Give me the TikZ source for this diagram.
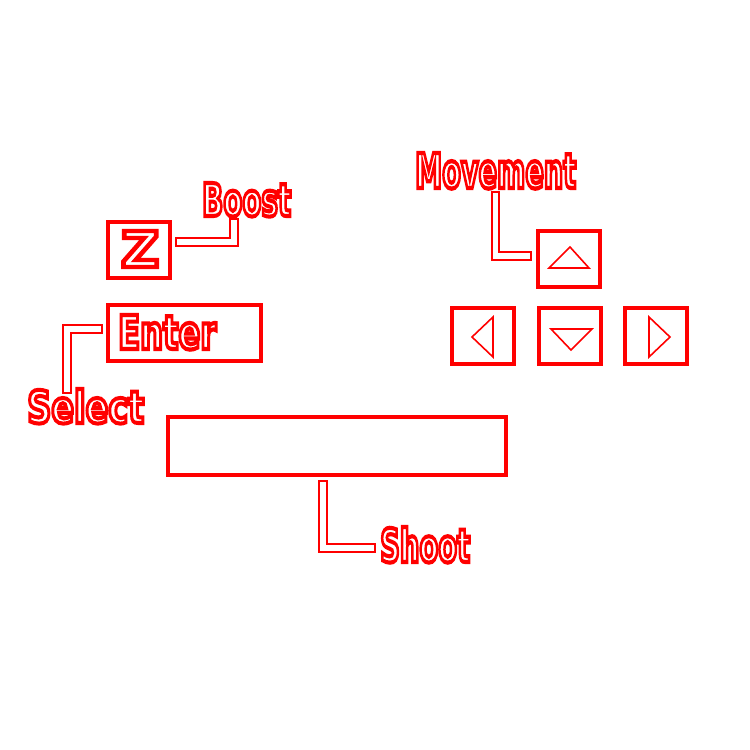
\documentclass[tikz,border=0pt]{standalone}
\usepackage{fontspec}
\setmainfont{DejaVu Sans}
\usepackage{graphicx}
\newcommand{\outl}[1]{\special{pdf:literal direct 1 Tr 0.9 w}#1\special{pdf:literal direct 0 Tr}}
\newcommand{\lbl}[3]{\resizebox{#1pt}{#2pt}{\bfseries\outl{#3}}}
\tikzset{
  key/.style={draw=red, line width=3.2pt, fill=none},
  tri/.style={draw=red, line width=1.6pt, line join=miter},
  conn/.style={draw=red, line width=2pt, line join=miter},
  lab/.style={inner sep=0pt, text=red, anchor=base west}
}
\begin{document}
\begin{tikzpicture}[x=1pt,y=-1pt]
\useasboundingbox (0,0) rectangle (750,750);
% keys
\draw[key] (108,222) rectangle (170,278);
\draw[key] (108,305) rectangle (261,361);
\draw[key] (168,417) rectangle (506,475);
\draw[key] (538,231) rectangle (600,287);
\draw[key] (452,308) rectangle (514,364);
\draw[key] (539,308) rectangle (601,364);
\draw[key] (625,308) rectangle (687,364);
% arrows in keys
\draw[tri] (549,268) -- (589,268) -- (570,247) -- cycle;
\draw[tri] (472,337) -- (493,317) -- (493,357) -- cycle;
\draw[tri] (551,329) -- (592,329) -- (571,350) -- cycle;
\draw[tri] (649,317) -- (649,357) -- (670,337) -- cycle;
% connectors
\draw[conn] (176,238) -- (230,238) -- (230,219) -- (238,219) -- (238,246) -- (176,246) -- cycle;
\draw[conn] (492,192) -- (499,192) -- (499,252) -- (531,252) -- (531,260) -- (492,260) -- cycle;
\draw[conn] (63,393) -- (63,325) -- (102,325) -- (102,333) -- (71,333) -- (71,393) -- cycle;
\draw[conn] (319,481) -- (327,481) -- (327,544) -- (375,544) -- (375,552) -- (319,552) -- cycle;
% labels
\node[lab] (z) at (121,267) {\lbl{38}{36}{Z}};
\node[lab] (boost) at (202,216) {\lbl{89}{33}{Boost}};
\node[lab] (move) at (415,188) {\lbl{161}{35}{Movement}};
\node[lab] (enter) at (118,349) {\lbl{98}{34}{Enter}};
\node[lab] (select) at (27,423) {\lbl{117}{34}{Select}};
\node[lab] (shoot) at (380,562) {\lbl{90}{35}{Shoot}};
\end{tikzpicture}
\end{document}
